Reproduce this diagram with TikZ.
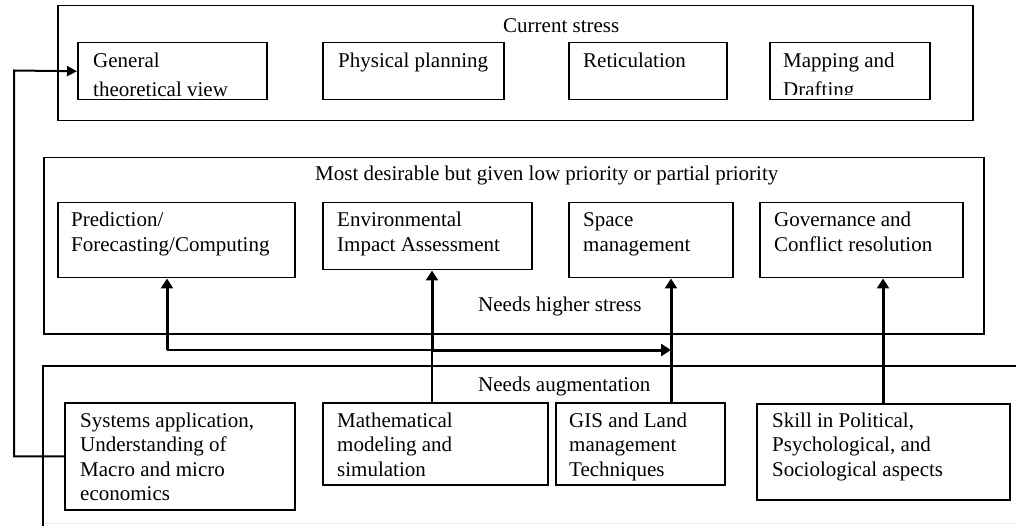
\documentclass[tikz,border=0pt]{standalone}
\usepackage{fontspec}
\setmainfont{Liberation Serif}
\usetikzlibrary{arrows.meta}
\newcommand\bxt[1]{\parbox[t]{300pt}{\raggedright #1}}
\begin{document}
\begin{tikzpicture}[x=1pt,y=-1pt,
  frame/.style={line width=1.5pt},
  box/.style={draw,line width=1.5pt,inner sep=0pt,anchor=north west},
  txt/.style={inner sep=0pt,anchor=base west,font=\fontsize{21}{24.5}\selectfont},
  toptxt/.style={inner sep=0pt,anchor=base west,font=\fontsize{21}{28.5}\selectfont},
  tarrow/.style={line width=3pt,-{Triangle[length=10pt,width=12pt]}},
  farrow/.style={line width=2pt,-{Triangle[length=10pt,width=10pt]}},
  thinline/.style={line width=1.2pt},
  midline/.style={line width=2pt}]
\useasboundingbox (0,0) rectangle (1016,526);
\fill[white] (0,0) rectangle (1016,526);

% ---------- top group ----------
\node[box,minimum width=915pt,minimum height=115pt] (topframe) at (57,5) {};
\node[txt] (toptitle) at (503,33) {Current stress};
\node[box,minimum width=189pt,minimum height=57pt] (gen) at (77,42) {};
\node[box,minimum width=181pt,minimum height=57pt] (phys) at (322,42) {};
\node[box,minimum width=158pt,minimum height=57pt] (ret) at (568,42) {};
\node[box,minimum width=160pt,minimum height=57pt] (map) at (769,42) {};
\begin{scope}
\clip (77,42) rectangle (266,96.5);
\node[toptxt] (gent) at (93,68) {\bxt{General\\theoretical view}};
\end{scope}
\node[toptxt] (physt) at (338,68) {\bxt{Physical planning}};
\node[toptxt] (rett) at (583,68) {\bxt{Reticulation}};
\begin{scope}
\clip (769,42) rectangle (929,95);
\node[toptxt] (mapt) at (783,68) {\bxt{Mapping and\\Drafting}};
\end{scope}

% ---------- middle group ----------
\node[box,minimum width=940pt,minimum height=176pt] (midframe) at (43,157) {};
\node[txt] (midtitle) at (315,181) {Most desirable but given low priority or partial priority};
\node[box,minimum width=237pt,minimum height=75pt] (pred) at (57,202) {};
\node[box,minimum width=209pt,minimum height=67pt] (eia) at (322,202) {};
\node[box,minimum width=164pt,minimum height=75pt] (space) at (568,202) {};
\node[box,minimum width=203pt,minimum height=75pt] (gov) at (759,202) {};
\node[txt] (predt) at (71,227) {\bxt{Prediction/\\Forecasting/Computing}};
\node[txt] (eiat) at (337,227) {\bxt{Environmental\\Impact Assessment}};
\node[txt] (spacet) at (583,227) {\bxt{Space\\management}};
\node[txt] (govt) at (774,227) {\bxt{Governance and\\Conflict resolution}};
\node[txt] (needhigh) at (478,312) {Needs higher stress};

% ---------- bottom group ----------
\draw[frame] (43,526) -- (43,366) -- (1016,366);
\draw[black!8,line width=1pt] (44,523) -- (1016,523);
\node[txt] (needaug) at (478,391) {Needs augmentation};
\node[box,minimum width=230pt,minimum height=107pt] (sys) at (64,402) {};
\node[box,minimum width=225pt,minimum height=82pt] (math) at (322,402) {};
\node[box,minimum width=169pt,minimum height=82pt] (gis) at (555,402) {};
\node[box,minimum width=253pt,minimum height=96pt] (skill) at (756,403) {};
\node[txt] (syst) at (80,427) {\bxt{Systems application,\\Understanding of\\Macro and micro\\economics}};
\node[txt] (matht) at (337,427) {\bxt{Mathematical\\modeling and\\simulation}};
\node[txt] (gist) at (569,427) {\bxt{GIS and Land\\management\\Techniques}};
\node[txt] (skillt) at (772,427) {\bxt{Skill in Political,\\Psychological, and\\Sociological aspects}};

% ---------- connectors ----------
\coordinate (fbc) at (14,70.5);
\draw[farrow] (sys.west) -| (fbc) -- (gen.west);

\coordinate (hl) at (167,350);
\coordinate (hm) at (432,350);
\coordinate (hr) at (671,350);
\coordinate (gv) at (883,350);
\draw[midline] (hm) -- (hl);
\draw[tarrow] (hl) -- (hl |- pred.south);
\draw[thinline] (hm |- math.north) -- (hm);
\draw[tarrow] (hm) -- (hm |- eia.south);
\draw[tarrow] (hm) -- (hr);
\draw[tarrow] (hr |- gis.north) -- (hr |- space.south);
\draw[tarrow] (gv |- skill.north) -- (gv |- gov.south);
\end{tikzpicture}
\end{document}
